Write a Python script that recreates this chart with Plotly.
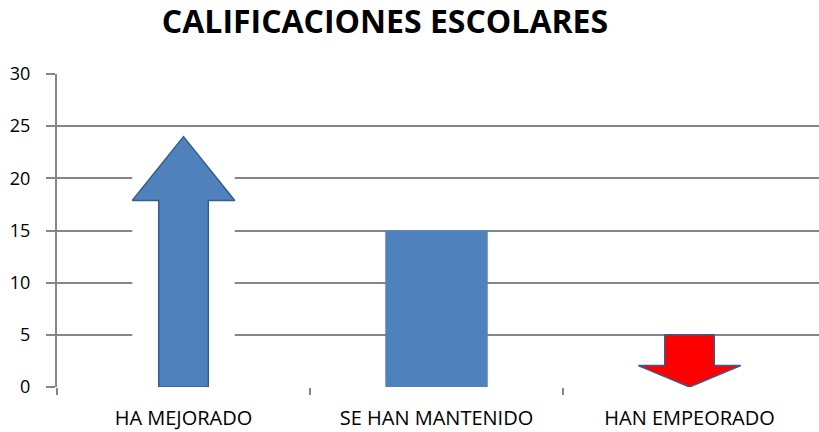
import plotly.graph_objects as go

# ---- data ----
categories = ["HA MEJORADO", "SE HAN MANTENIDO", "HAN EMPEORADO"]
values = [24, 15, 5]
y_ticks = [0, 5, 10, 15, 20, 25, 30]
title_text = "CALIFICACIONES ESCOLARES"

# ---- styles ----
BLUE = "#4F81BD"
OUTLINE = "#385D8A"
RED = "#FF0000"
GRID = "#868686"
BAR_W = 0.405
SHAFT_W = 0.196
FONT = "Open Sans"

xs = list(range(len(categories)))
fig = go.Figure()

# white picture-fill box for the up-arrow bar, solid fill for the middle bar
bar_colors = ["white", BLUE, "rgba(0,0,0,0)"]
fig.add_trace(go.Bar(x=xs, y=values, width=BAR_W, marker=dict(color=bar_colors, line=dict(width=0)),
                     showlegend=False, hoverinfo="skip"))

def up_arrow(cx, v, head_frac):
    hb = v * (1 - head_frac)
    px = [cx - SHAFT_W/2, cx - SHAFT_W/2, cx - BAR_W/2, cx, cx + BAR_W/2, cx + SHAFT_W/2, cx + SHAFT_W/2, cx - SHAFT_W/2]
    py = [0, hb, hb, v, hb, hb, 0, 0]
    return px, py

def down_arrow(cx, v, head_frac):
    hb = v * head_frac
    px = [cx - SHAFT_W/2, cx - SHAFT_W/2, cx - BAR_W/2, cx, cx + BAR_W/2, cx + SHAFT_W/2, cx + SHAFT_W/2, cx - SHAFT_W/2]
    py = [v, hb, hb, 0, hb, hb, v, v]
    return px, py

ax, ay = up_arrow(xs[0], values[0], 0.255)
fig.add_trace(go.Scatter(x=ax, y=ay, mode="lines", fill="toself", fillcolor=BLUE,
                         line=dict(color=OUTLINE, width=1.5), showlegend=False, hoverinfo="skip"))
bx, by = down_arrow(xs[2], values[2], 0.41)
fig.add_trace(go.Scatter(x=bx, y=by, mode="lines", fill="toself", fillcolor=RED,
                         line=dict(color=OUTLINE, width=1.5), showlegend=False, hoverinfo="skip"))

fig.update_layout(
    width=819, height=432,
    margin=dict(l=57, r=0, t=74, b=45),
    paper_bgcolor="white", plot_bgcolor="white",
    title=dict(text="<b>" + title_text + "</b>", x=385/819, xanchor="center", xref="container",
               y=1 - 22/432, yanchor="middle", yref="container",
               font=dict(family=FONT, size=32, color="black")),
    font=dict(family=FONT, size=18, color="black"),
)
fig.update_xaxes(
    range=[-0.5, 2.5 + 3/255], tickvals=xs, ticktext=categories, ticks="",
    showgrid=False, zeroline=False, showline=False, fixedrange=True,
    tickfont=dict(size=20), ticklabelstandoff=17,
    minor=dict(tickvals=[-0.5, 0.5, 1.5], ticks="outside", ticklen=7, tickcolor=GRID, tickwidth=2, showgrid=False),
)
fig.update_yaxes(
    range=[0, 30], tickvals=y_ticks, showgrid=True, gridcolor=GRID, gridwidth=2,
    zeroline=False, showline=True, linecolor=GRID, linewidth=2, fixedrange=True,
    ticks="outside", ticklen=9, tickcolor=GRID, tickwidth=2, tickfont=dict(size=18),
    ticklabelstandoff=12,
)
fig.write_html("out.html", config={"displayModeBar": False},
               post_script="document.body.style.margin='0';")
